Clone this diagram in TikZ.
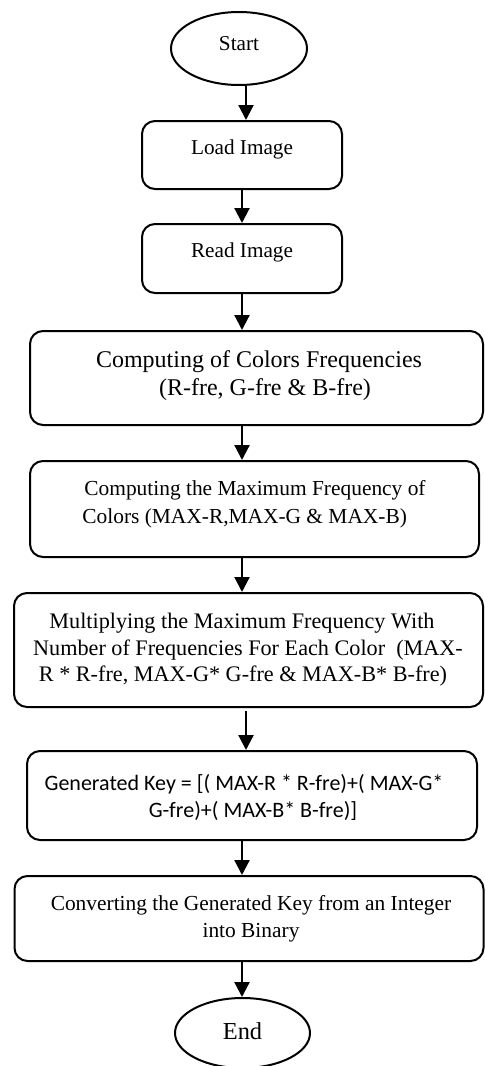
\documentclass[tikz,border=0pt]{standalone}
\usepackage{fontspec}
\setmainfont{Liberation Serif}
\newfontfamily\calibrifont{Carlito}
\usetikzlibrary{shapes.geometric,arrows.meta}
\begin{document}
\begin{tikzpicture}[x=0.5pt,y=-0.5pt,
  box/.style={draw,line width=1pt,rounded corners=6.5pt,inner sep=0pt},
  oval/.style={draw,ellipse,line width=1pt,inner sep=0pt},
  lbl/.style={inner sep=0pt,anchor=base},
  lblw/.style={inner sep=0pt,anchor=base west},
  arr/.style={line width=1.1pt,-{Triangle[width=7.5pt,length=7.5pt]}}]
\useasboundingbox (0,0) rectangle (484,1066);

% terminals
\node[oval,minimum width=68pt,minimum height=36.5pt] (start) at (239,48.5) {};
\node[lbl,font=\fontsize{10.6}{12}\selectfont] (tstart) at (239,50) {Start};

\node[oval,minimum width=67.5pt,minimum height=35pt] (end) at (242.5,1033) {};
\node[lbl,font=\fontsize{12.2}{14}\selectfont] (tend) at (242.5,1039.3) {End};

% process boxes
\node[box,minimum width=100pt,minimum height=34pt] (load) at (242,155) {};
\node[lbl,font=\fontsize{10.6}{12}\selectfont] (tload) at (242,154) {Load Image};

\node[box,minimum width=100pt,minimum height=34.5pt] (read) at (242,258.5) {};
\node[lbl,font=\fontsize{10.6}{12}\selectfont] (tread) at (242,257) {Read Image};

\node[box,minimum width=226.5pt,minimum height=47pt] (freq) at (256.5,378) {};
\node[lbl,font=\fontsize{12}{14}\selectfont] (tfreqa) at (259,367.3) {Computing of Colors Frequencies};
\node[lbl,font=\fontsize{12}{14}\selectfont] (tfreqb) at (265,395) {(R-fre, G-fre \& B-fre)};

\node[box,minimum width=224.5pt,minimum height=48pt] (maxf) at (254.5,509) {};
\node[lblw,font=\fontsize{10.7}{13}\selectfont] (tmaxa) at (84,495) {Computing the Maximum Frequency of};
\node[lblw,font=\fontsize{10.7}{13}\selectfont] (tmaxb) at (82,523.3) {Colors (MAX-R,MAX-G \& MAX-B)};

\node[box,minimum width=234.5pt,minimum height=57pt] (mult) at (248.5,650) {};
\node[lbl,font=\fontsize{11.1}{13}\selectfont] (tmulta) at (242,628.3) {Multiplying the Maximum Frequency With};
\node[lbl,font=\fontsize{11.1}{13}\selectfont] (tmultb) at (248,655) {Number of Frequencies For Each Color\ \ (MAX-};
\node[lbl,font=\fontsize{11.1}{13}\selectfont] (tmultc) at (243,681.7) {R * R-fre, MAX-G* G-fre \& MAX-B* B-fre)};

\node[box,minimum width=225pt,minimum height=44.5pt] (key) at (252,795.5) {};
\node[lbl,font=\calibrifont\fontsize{11}{13}\selectfont] (tkeya) at (244,790) {Generated Key = [( MAX-R * R-fre)+( MAX-G*};
\node[lbl,font=\calibrifont\fontsize{11}{13}\selectfont] (tkeyb) at (253,817.3) {G-fre)+( MAX-B* B-fre)]};

\node[box,minimum width=234.5pt,minimum height=42.5pt] (conv) at (249,918.5) {};
\node[lbl,font=\fontsize{10.7}{13}\selectfont] (tconva) at (251,910) {Converting the Generated Key from an Integer};
\node[lbl,font=\fontsize{10.7}{13}\selectfont] (tconvb) at (251,937.7) {into Binary};

% flow
\draw[arr] (start.south -| 246,0) -- (load.north -| 246,0);
\draw[arr] (load.south -| 242,0) -- (read.north -| 242,0);
\draw[arr] (read.south -| 242,0) -- (freq.north -| 242,0);
\draw[arr] (freq.south -| 242,0) -- (maxf.north -| 242,0);
\draw[arr] (maxf.south -| 242,0) -- (mult.north -| 242,0);
\draw[arr,shorten <=1.5pt] (mult.south -| 246,0) -- (key.north -| 246,0);
\draw[arr] (key.south -| 242,0) -- (conv.north -| 242,0);
\draw[arr] (conv.south -| 242,0) -- (end.north -| 242,0);
\end{tikzpicture}
\end{document}
